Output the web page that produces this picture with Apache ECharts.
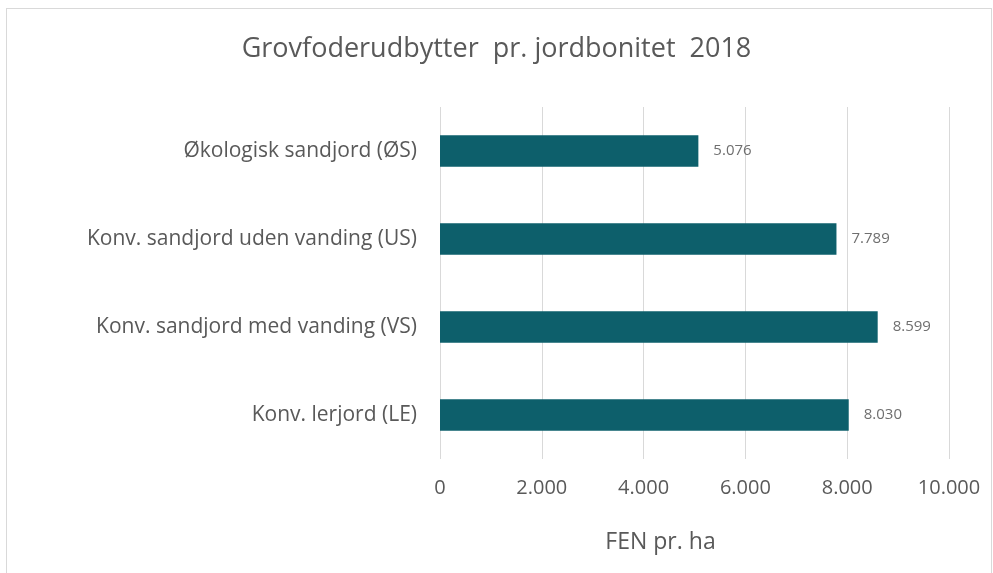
<!DOCTYPE html>
<html>
<head>
<meta charset="utf-8">
<script src="https://cdn.jsdelivr.net/npm/echarts@6/dist/echarts.min.js"></script>
<style>
    body { margin: 0; background: #fff; }
    #wrap { position: relative; width: 993px; height: 573px; }
    #chart { width: 993px; height: 573px; }
    #frame {
        position: absolute; left: 6px; top: 8px; right: 1px; bottom: -2px;
        border: 1px solid #d9d9d9; border-bottom: none; pointer-events: none;
    }
</style>
</head>
<body>
<div id="wrap">
    <div id="chart"></div>
    <div id="frame"></div>
</div>
<script>
'use strict';
// categories listed top to bottom as in the picture
var categories = ['Økologisk sandjord (ØS)', 'Konv. sandjord uden vanding (US)', 'Konv. sandjord med vanding (VS)', 'Konv. lerjord (LE)'];
var yields = [5076, 7789, 8599, 8030];
var xTicks = [0, 2000, 4000, 6000, 8000, 10000];

function fmtDk(v) {
    return String(v).replace(/\B(?=(\d{3})+(?!\d))/g, '.');
}

var chart = echarts.init(document.getElementById('chart'));
var textColor = '#595959';
var font = '"Open Sans", "Noto Sans", sans-serif';

chart.setOption({
    animation: false,
    title: {
        text: 'Grovfoderudbytter  pr. jordbonitet  2018',
        left: 'center',
        top: 31,
        textStyle: { color: textColor, fontSize: 27, fontWeight: 'normal', fontFamily: font }
    },
    grid: { left: 440, right: 44, top: 107, bottom: 114 },
    xAxis: {
        type: 'value',
        min: xTicks[0],
        max: xTicks[xTicks.length - 1],
        interval: 2000,
        name: 'FEN pr. ha',
        nameLocation: 'middle',
        nameGap: 72,
        nameTextStyle: { color: textColor, fontSize: 23, fontFamily: font, padding: [0, 68, 0, 0] },
        axisLine: { show: false },
        axisTick: { show: false },
        axisLabel: { color: textColor, fontSize: 20, fontFamily: font, margin: 19, formatter: fmtDk },
        splitLine: { lineStyle: { color: '#d9d9d9', width: 1 } }
    },
    yAxis: {
        type: 'category',
        inverse: true,
        data: categories,
        axisLine: { show: false },
        axisTick: { show: false },
        axisLabel: { color: textColor, fontSize: 21, fontFamily: font, margin: 23 }
    },
    series: [{
        type: 'bar',
        data: yields,
        barWidth: '36%',
        itemStyle: { color: '#0d5f6b' },
        label: {
            show: true,
            position: 'right',
            distance: 15,
            color: '#6f6f6f',
            fontSize: 15,
            fontFamily: font,
            formatter: function (p) { return fmtDk(p.value); }
        }
    }]
});
</script>
</body>
</html>
